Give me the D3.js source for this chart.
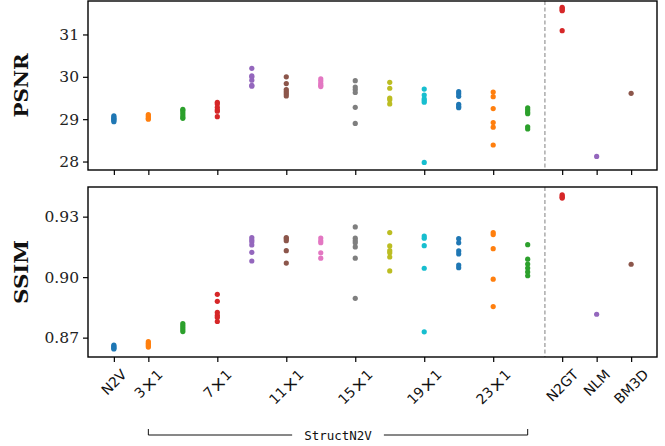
<!DOCTYPE html>
<html>
<head>
<meta charset="utf-8">
<script src="https://cdn.jsdelivr.net/npm/d3@7"></script>
<style>
  body { margin: 0; background: #fff; }
  svg { display: block; }
</style>
</head>
<body>
<div id="chart"></div>
<script>
// categories along x (only some are labelled)
var methods = ["N2V", "3×1", "5×1", "7×1", "9×1", "11×1", "13×1", "15×1", "17×1",
               "19×1", "21×1", "23×1", "25×1", "N2GT", "NLM", "BM3D"];
var tickLabels = ["N2V", "3×1", "7×1", "11×1", "15×1", "19×1", "23×1", "N2GT", "NLM", "BM3D"];

// PSNR per method (several runs each)
var psnr = [
  [29.08, 29.05, 29.02, 29.0, 28.97, 28.94],
  [29.11, 29.08, 29.05, 29.02, 29.0],
  [29.23, 29.2, 29.15, 29.1, 29.05, 29.02],
  [29.40, 29.36, 29.28, 29.22, 29.19, 29.06],
  [30.2, 30.02, 30.0, 29.92, 29.8, 29.78],
  [30.0, 29.84, 29.7, 29.65, 29.6, 29.55],
  [29.95, 29.9, 29.84, 29.8, 29.77],
  [29.91, 29.76, 29.7, 29.63, 29.28, 28.9],
  [29.87, 29.73, 29.5, 29.46, 29.36],
  [29.71, 29.57, 29.48, 29.44, 29.4, 27.98],
  [29.65, 29.6, 29.54, 29.35, 29.3, 29.27],
  [29.64, 29.53, 29.25, 28.92, 28.81, 28.39],
  [29.27, 29.22, 29.17, 29.13, 28.82, 28.77],
  [31.64, 31.61, 31.58, 31.56, 31.09],
  [28.12],
  [29.61]
];

// SSIM per method
var ssim = [
  [0.8663, 0.8658, 0.8653, 0.8648, 0.8644],
  [0.868, 0.8672, 0.8665, 0.8658, 0.8653],
  [0.877, 0.876, 0.875, 0.874, 0.873],
  [0.8915, 0.888, 0.8825, 0.881, 0.880, 0.878],
  [0.9196, 0.9185, 0.9176, 0.916, 0.9123, 0.908],
  [0.9196, 0.919, 0.9181, 0.9131, 0.907],
  [0.9194, 0.918, 0.9171, 0.9121, 0.9094],
  [0.9249, 0.9193, 0.918, 0.917, 0.915, 0.9094, 0.8895],
  [0.9221, 0.9155, 0.9131, 0.9121, 0.91, 0.9031],
  [0.9204, 0.9193, 0.9156, 0.9044, 0.8729],
  [0.9191, 0.917, 0.913, 0.9115, 0.906, 0.9047],
  [0.9221, 0.9211, 0.9141, 0.899, 0.8854],
  [0.9161, 0.9089, 0.9065, 0.9045, 0.9026, 0.9007],
  [0.9408, 0.9402, 0.9396, 0.9392],
  [0.8816],
  [0.9064]
];

var psnrTicks = [28, 29, 30, 31];
var ssimTicks = [0.87, 0.90, 0.93];

var W = 665, H = 446;
var left = 88, right = 657;

var svg = d3.select("#chart").append("svg")
    .attr("width", W)
    .attr("height", H);

// x scale in category index units
var x = d3.scaleLinear()
    .domain([-0.75, methods.length - 0.25])
    .range([left, right]);

var color = d3.scaleOrdinal(d3.schemeCategory10);

var panels = [
  { name: "PSNR", data: psnr, top: 1, bottom: 170, domain: [27.8, 31.79], ticks: psnrTicks, fmt: d3.format("d") },
  { name: "SSIM", data: ssim, top: 187, bottom: 357, domain: [0.8604, 0.9447], ticks: ssimTicks, fmt: d3.format(".2f") }
];

panels.forEach(function (p, pi) {
  var y = d3.scaleLinear().domain(p.domain).range([p.bottom, p.top]);
  var g = svg.append("g");

  // separator between StructN2V family and baselines
  g.append("line")
    .attr("x1", x(12.5)).attr("x2", x(12.5))
    .attr("y1", p.top).attr("y2", p.bottom)
    .attr("stroke", "#808080")
    .attr("stroke-width", 1)
    .attr("stroke-dasharray", "4,2.5");

  // points
  p.data.forEach(function (vals, i) {
    g.selectAll(null)
      .data(vals)
      .enter()
      .append("circle")
      .attr("cx", x(i))
      .attr("cy", function (d) { return y(d); })
      .attr("r", 2.6)
      .attr("fill", color(i));
  });

  // y axis
  var yAxis = g.append("g")
    .attr("transform", "translate(" + left + ",0)")
    .call(d3.axisLeft(y).tickValues(p.ticks).tickFormat(p.fmt).tickSize(5).tickPadding(4));
  yAxis.select(".domain").remove();
  yAxis.selectAll(".tick line").attr("stroke", "#000").attr("stroke-width", 1.2);
  yAxis.selectAll("text")
    .style("font-family", "DejaVu Serif")
    .style("font-size", "15.5px")
    .attr("fill", "#222");

  // x axis ticks
  var xAxis = g.append("g")
    .attr("transform", "translate(0," + p.bottom + ")")
    .call(d3.axisBottom(x)
      .tickValues(tickLabels.map(function (t) { return methods.indexOf(t); }))
      .tickSize(5)
      .tickFormat(""));
  xAxis.select(".domain").remove();
  xAxis.selectAll(".tick line").attr("stroke", "#000").attr("stroke-width", 1.2);

  // frame
  g.append("rect")
    .attr("x", left).attr("y", p.top)
    .attr("width", right - left).attr("height", p.bottom - p.top)
    .attr("fill", "none")
    .attr("stroke", "#000")
    .attr("stroke-width", 1.4);

  // y label
  g.append("text")
    .attr("transform", "translate(28," + ((p.top + p.bottom) / 2) + ") rotate(-90)")
    .attr("text-anchor", "middle")
    .style("font-family", "DejaVu Serif")
    .style("font-weight", "bold")
    .style("font-size", "18px")
    .attr("textLength", 64)
    .attr("lengthAdjust", "spacingAndGlyphs")
    .attr("fill", "#111")
    .text(p.name);
});

// rotated x tick labels, centered on tick (bbox top just under ticks)
var labelTop = 367;
var fs = 14;
tickLabels.forEach(function (t) {
  var i = methods.indexOf(t);
  var txt = svg.append("text")
    .attr("text-anchor", "middle")
    .attr("dominant-baseline", "central")
    .style("font-family", "DejaVu Sans")
    .style("font-size", fs + "px")
    .attr("fill", "#111");
  // the multiplication sign is drawn a bit larger, like a math glyph
  t.split(/(×)/).forEach(function (part) {
    if (!part) return;
    var ts = txt.append("tspan").text(part);
    if (part === "×") ts.style("font-size", (fs * 1.3) + "px");
  });
  var L = txt.node().getComputedTextLength();
  var half = (L + fs) / (2 * Math.SQRT2);
  txt.attr("transform", "translate(" + x(i) + "," + (labelTop + half) + ") rotate(-45)");
});

// StructN2V bracket
var bx0 = x(1), bx1 = x(12), by = 435;
var mid = (bx0 + bx1) / 2;
var label = svg.append("text")
  .attr("x", mid).attr("y", by)
  .attr("text-anchor", "middle")
  .attr("dominant-baseline", "central")
  .style("font-family", "DejaVu Sans Mono")
  .style("font-size", "12.5px")
  .attr("fill", "#111")
  .text("StructN2V");
var lw = label.node().getComputedTextLength() / 2 + 12;
var path = d3.path();
path.moveTo(bx0, by - 6); path.lineTo(bx0, by); path.lineTo(mid - lw, by);
path.moveTo(mid + lw, by); path.lineTo(bx1, by); path.lineTo(bx1, by - 6);
svg.append("path")
  .attr("d", path.toString())
  .attr("fill", "none")
  .attr("stroke", "#111")
  .attr("stroke-width", 1);
</script>
</body>
</html>
